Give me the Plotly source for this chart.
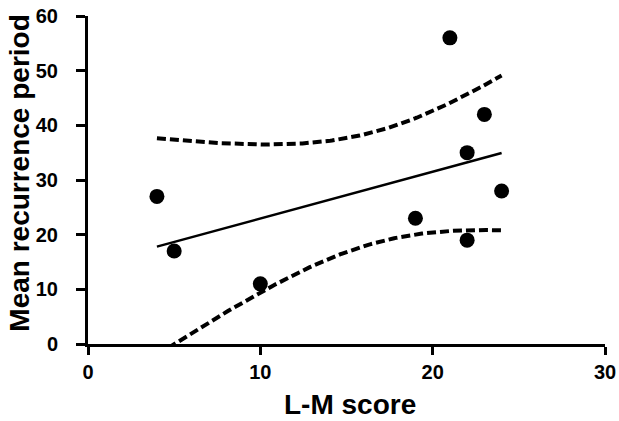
import numpy as np
import plotly.graph_objects as go

# Data
lm_score = [4, 5, 10, 19, 21, 22, 22, 23, 24]
recurrence = [27, 17, 11, 23, 56, 19, 35, 42, 28]
x_ticks = [0, 10, 20, 30]
y_ticks = [0, 10, 20, 30, 40, 50, 60]

# Linear regression with 95% confidence band (as in the original software output)
x = np.array(lm_score, dtype=float)
y = np.array(recurrence, dtype=float)
n = len(x)
slope, intercept = np.polyfit(x, y, 1)
resid = y - (intercept + slope * x)
s = np.sqrt(np.sum(resid ** 2) / (n - 2))
sxx = np.sum((x - x.mean()) ** 2)
t_crit = 2.3646  # t(0.975, df=7)
xf = np.linspace(x.min(), x.max(), 200)
yf = intercept + slope * xf
se = s * np.sqrt(1.0 / n + (xf - x.mean()) ** 2 / sxx)
upper = yf + t_crit * se
lower = yf - t_crit * se

fig = go.Figure()
dash_line = dict(color="black", width=4, dash="9px,4px")
fig.add_trace(go.Scatter(x=xf, y=upper, mode="lines", line=dash_line, hoverinfo="skip"))
fig.add_trace(go.Scatter(x=xf, y=lower, mode="lines", line=dash_line, hoverinfo="skip"))
fig.add_trace(go.Scatter(x=xf, y=yf, mode="lines",
                         line=dict(color="black", width=2.5)))
fig.add_trace(go.Scatter(x=lm_score, y=recurrence, mode="markers",
                         marker=dict(color="black", size=15)))

font = "Liberation Sans"
axis_common = dict(showline=True, linecolor="black", linewidth=3,
                   ticks="outside", tickcolor="black", tickwidth=3,
                   showgrid=False, zeroline=False,
                   automargin=False, ticklabeloverflow="allow",
                   tickfont=dict(family=font, size=20, color="black"))

fig.update_layout(
    width=619, height=421,
    margin=dict(l=87.5, r=13.5, t=16, b=77, autoexpand=False),
    paper_bgcolor="white", plot_bgcolor="white",
    showlegend=False,
    xaxis=dict(range=[0, 30], tickvals=x_ticks,
               ticktext=[f"<b>{v}</b>" for v in x_ticks],
               ticklen=8, ticklabelstandoff=0, **axis_common),
    yaxis=dict(range=[0, 60], tickvals=y_ticks,
               ticktext=[f"<b>{v}</b>" for v in y_ticks],
               ticklen=9, ticklabelstandoff=14, **axis_common),
    annotations=[
        dict(text="<b>L-M score</b>", xref="paper", yref="paper",
             x=0.507, y=-0.183, xanchor="center", yanchor="middle",
             showarrow=False, font=dict(family=font, size=28, color="black")),
        dict(text="<b>Mean recurrence period</b>", xref="paper", yref="paper",
             x=-0.133, y=0.52, xanchor="center", yanchor="middle", textangle=-90,
             showarrow=False, font=dict(family=font, size=28, color="black")),
    ],
)

# remove the page's default body margin so the 619x421 figure fills the window exactly
fig.write_html("out.html", config={"displayModeBar": False},
               post_script="document.body.style.margin='0';document.body.style.overflow='hidden';")
